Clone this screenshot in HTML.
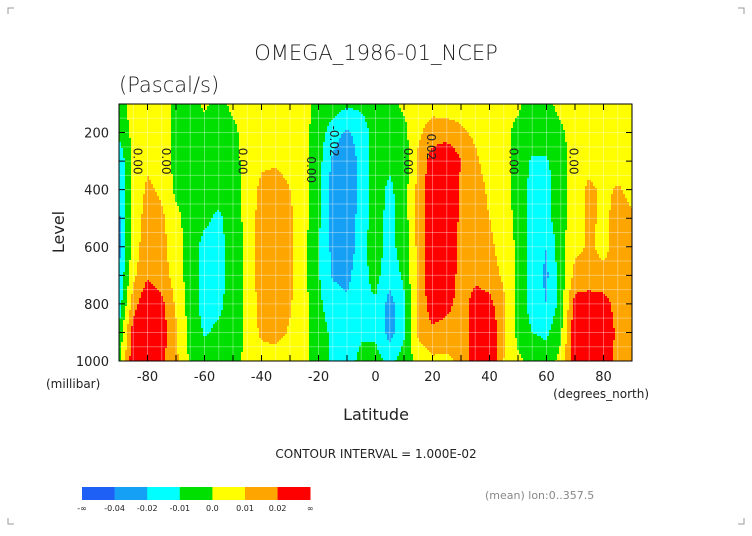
<!DOCTYPE html>
<html><head><meta charset="utf-8"><style>
body{margin:0;background:#fff;width:752px;height:532px;overflow:hidden;font-family:"DejaVu Sans","Liberation Sans",sans-serif}
svg text{font-family:"DejaVu Sans","Liberation Sans",sans-serif}
</style></head><body>
<svg id="c" width="752" height="532" viewBox="0 0 752 532" xmlns="http://www.w3.org/2000/svg">
<g stroke="#999" stroke-width="1" fill="none">
<path d="M8 14V8h6M744 14V8h-6M8 518v6h6M744 518v6h-6"/></g>
<text x="376" y="60" font-size="21" text-anchor="middle" fill="#222" font-weight="300">OMEGA_1986-01_NCEP</text>
<text x="119" y="92" font-size="21" fill="#222" font-weight="300">(Pascal/s)</text>
<g id="field"></g>
<g id="grid"></g>
<g id="labels"></g>
<rect x="119" y="104" width="513" height="257" fill="none" stroke="#000" stroke-width="1"/>
<g id="axes"></g>
<text x="64" y="232" font-size="16" text-anchor="middle" fill="#222" transform="rotate(-90 64 232)">Level</text>
<text x="46" y="388" font-size="12" fill="#222">(millibar)</text>
<text x="376" y="420" font-size="16" text-anchor="middle" fill="#222">Latitude</text>
<text x="649" y="398" font-size="12" text-anchor="end" fill="#222">(degrees_north)</text>
<text x="376" y="458" font-size="12" text-anchor="middle" fill="#222">CONTOUR INTERVAL = 1.000E-02</text>
<text x="485" y="499" font-size="11" fill="#888">(mean) lon:0..357.5</text>
<g id="cbar"></g>
</svg>
<script>
const NS="http://www.w3.org/2000/svg";
const lats=[-90,-85,-80,-75,-70,-65,-60,-55,-50,-45,-40,-35,-30,-25,-20,-15,-10,-5,0,5,10,15,20,25,30,35,40,45,50,55,60,65,70,75,80,85,90];
const levels=[100,200,300,400,500,600,700,800,900,1000];
// omega values in units of 0.01 Pa/s, one array per latitude (levels 100..1000)
const omega=[
[-0.5,-0.8,-1.8,-1.8,-2.2,-2.4,-1.9,-1.6,-0.8,-0.5],
[0.5,0.3,0.2,0.2,0.3,0.5,0.8,1.5,2.5,2.8],
[0.5,0.6,0.8,1.2,1.5,1.6,1.8,3,3.5,3.5],
[0.5,0.5,0.5,0.8,1.2,1.3,1.4,2.3,2.5,2.2],
[-0.3,-0.3,-0.3,-0.2,0.3,0.5,0.6,0.8,1.2,1.2],
[-0.5,-0.5,-0.5,-0.5,-0.5,-0.5,-0.5,-0.5,-0.3,-0.2],
[0.2,-0.5,-0.5,-0.5,-0.8,-1.3,-1.4,-1.4,-1.1,-0.5],
[-0.5,-0.5,-0.5,-0.5,-1.2,-1.3,-1.3,-1.2,-0.8,-0.5],
[0.3,-0.3,-0.3,-0.5,-0.5,-0.6,-0.6,-0.6,-0.6,-0.3],
[0.5,0.5,0.3,0.3,0.3,0.3,0.3,0.3,0.3,0.2],
[0.5,0.6,0.8,1.3,1.5,1.5,1.5,1.4,1.2,0.5],
[0.5,0.6,0.9,1.4,1.5,1.5,1.5,1.4,1.3,0.6],
[0.5,0.5,0.7,1.0,1.2,1.2,1.2,1.1,0.9,0.5],
[0.3,0.3,0.3,0.3,0.3,0.3,0.3,0.3,0.3,0.3],
[-0.3,-0.5,-0.6,-0.8,-0.8,-0.9,-0.9,-0.8,-0.6,-0.5],
[-0.5,-1.5,-2.2,-2.5,-2.5,-2.3,-2.1,-1.5,-1.2,-1.2],
[-0.8,-2.2,-2.8,-3,-3,-2.8,-2.3,-1.8,-1.5,-1.3],
[-0.8,-1.5,-1.6,-1.5,-1.4,-1.3,-1.3,-1.2,-1.1,-0.8],
[-0.5,-0.6,-0.6,-0.6,-0.6,-0.6,-0.7,-1.1,-1.2,-0.6],
[-0.3,-0.5,-0.8,-1.2,-1.3,-1.3,-1.6,-2.4,-2.4,-1.3],
[0.2,-0.3,-0.5,-0.5,-0.5,-0.6,-0.8,-1.2,-1.2,-0.5],
[0.5,0.8,1.2,1.3,1.3,1.3,1.3,1.2,1.2,0.3],
[0.6,1.5,2.5,2.8,2.8,2.8,2.8,2.6,1.8,0.8],
[0.5,1.5,3,3.2,3.2,3.1,2.9,2.4,1.5,0.8],
[0.5,1.2,2.0,1.8,1.7,1.6,1.5,1.5,1.3,1.2],
[0.5,0.8,1.2,1.5,1.5,1.5,1.8,2.4,2.6,2.6],
[0.5,0.5,0.5,0.8,1.0,1.2,1.5,2.3,3,3],
[0.3,0.3,0.4,0.5,0.5,0.6,0.8,1.2,1.2,1],
[0.2,-0.3,-0.5,-0.5,-0.3,-0.2,-0.2,-0.2,-0.3,0.2],
[-0.5,-0.5,-1.1,-1.3,-1.3,-1.4,-1.5,-1.5,-1,-0.3],
[-0.3,-0.5,-1.1,-1.3,-1.3,-2,-2.2,-2,-1.2,-0.5],
[0.3,-0.2,-0.5,-0.5,-0.4,-0.4,-0.5,-0.6,-0.2,0.3],
[0.5,0.5,0.5,0.5,0.6,0.8,1.3,2.4,2.8,2.6],
[0.5,0.5,0.7,1.2,1.2,1.1,1.3,2.6,3.2,3.2],
[0.5,0.5,0.5,0.8,0.8,0.8,1.2,2.5,3.3,3.2],
[0.5,0.5,0.5,1.1,1.3,1.3,1.2,1.5,1.6,1.4],
[0.5,0.5,0.5,0.8,1.1,1.2,1.1,1.2,1.3,1.2]
];
const thresholds=[-4,-2,-1,0,1,2];
const colors=["#1e5ff5","#16a0f5","#00ffff","#00e000","#ffff00","#ffa500","#ff0000"];
const cbarLabels=["-∞","-0.04","-0.02","-0.01","0.0","0.01","0.02","∞"];
const xTicks=[-80,-60,-40,-20,0,20,40,60,80];
const yTicks=[200,400,600,800,1000];
const contourLabels=[[-85,300,"0.00"],[-75,300,"0.00"],[-48,300,"0.00"],[-24,330,"0.00"],[-16,230,"-0.02"],[10,300,"0.00"],[18,250,"0.02"],[47,300,"0.00"],[68,300,"0.00"]];

const X0=119,X1=632,Y0=104,Y1=361;
const xs=lat=>X0+(lat+90)/180*(X1-X0);
const ys=p=>Y1-(1000-p)/900*(Y1-Y0);
const col=v=>{let i=0;while(i<thresholds.length&&v>=thresholds[i])i++;return colors[i];};
function val(lat,p){
  let fi=(lat-lats[0])/(lats[1]-lats[0]);fi=Math.max(0,Math.min(lats.length-1.0001,fi));
  let fj=(p-levels[0])/(levels[1]-levels[0]);fj=Math.max(0,Math.min(levels.length-1.0001,fj));
  const i=Math.floor(fi),j=Math.floor(fj),a=fi-i,b=fj-j;
  return (omega[i][j]*(1-a)+omega[i+1][j]*a)*(1-b)+(omega[i][j+1]*(1-a)+omega[i+1][j+1]*a)*b;
}
const field=document.getElementById('field');
const S=2;
function addRun(x0,x1,y,c){
  const r=document.createElementNS(NS,'rect');
  r.setAttribute('x',x0);r.setAttribute('y',y);r.setAttribute('width',x1-x0+0.3);r.setAttribute('height',Math.min(S,Y1-y)+0.3);r.setAttribute('fill',c);
  
  
  field.appendChild(r);
}
for(let y=Y0;y<Y1;y+=S){
  const p=1000-(Y1-(y+S/2))/(Y1-Y0)*900;
  let runStart=X0,runCol=null;
  for(let x=X0;x<X1;x+=S){
    const c=col(val((Math.min(x+S/2,X1)-X0)/(X1-X0)*180-90,p));
    if(c!==runCol){
      if(runCol)addRun(runStart,x,y,runCol);
      runStart=x;runCol=c;
    }
  }
  if(runCol)addRun(runStart,X1,y,runCol);
}
const grid=document.getElementById('grid');
for(let lat=-85;lat<90;lat+=5){const l=document.createElementNS(NS,'line');l.setAttribute('x1',xs(lat));l.setAttribute('x2',xs(lat));l.setAttribute('y1',Y0);l.setAttribute('y2',Y1);l.setAttribute('stroke','#fff');l.setAttribute('stroke-opacity','0.35');


grid.appendChild(l);}
for(let p=150;p<1000;p+=50){const l=document.createElementNS(NS,'line');l.setAttribute('x1',X0);l.setAttribute('x2',X1);l.setAttribute('y1',ys(p));l.setAttribute('y2',ys(p));l.setAttribute('stroke','#fff');l.setAttribute('stroke-opacity','0.35');


grid.appendChild(l);}
const lab=document.getElementById('labels');
contourLabels.forEach(c=>{const t=document.createElementNS(NS,'text');const x=xs(c[0]),y=ys(c[1]);
t.setAttribute('x',x);t.setAttribute('y',y);t.setAttribute('font-size','12');t.setAttribute('text-anchor','middle');t.setAttribute('transform',`rotate(90 ${x} ${y})`);t.setAttribute('fill','#222');t.textContent=c[2];


lab.appendChild(t);});
const ax=document.getElementById('axes');
let d='';
for(let lat=-90;lat<=90;lat+=10){d+=`M${xs(lat)} ${Y1}v-6M${xs(lat)} ${Y0}v6`;}
for(let p=100;p<=1000;p+=100){d+=`M${X0} ${ys(p)}h6M${X1} ${ys(p)}h-6`;}
const tp=document.createElementNS(NS,'path');tp.setAttribute('d',d);tp.setAttribute('stroke','#000');


ax.appendChild(tp);
xTicks.forEach(v=>{const t=document.createElementNS(NS,'text');t.setAttribute('x',xs(v));t.setAttribute('y',381);t.setAttribute('font-size','13');t.setAttribute('text-anchor','middle');t.setAttribute('fill','#222');t.textContent=v;


ax.appendChild(t);});
yTicks.forEach(v=>{const t=document.createElementNS(NS,'text');t.setAttribute('x',109);t.setAttribute('y',ys(v)+5);t.setAttribute('font-size','13');t.setAttribute('text-anchor','end');t.setAttribute('fill','#222');t.textContent=v;


ax.appendChild(t);});
const cb=document.getElementById('cbar');const bw=32.6,bx=82;
colors.forEach((c,i)=>{const r=document.createElementNS(NS,'rect');r.setAttribute('x',bx+i*bw);r.setAttribute('y',487);r.setAttribute('width',bw+0.3);r.setAttribute('height',13);r.setAttribute('fill',c);


cb.appendChild(r);});
cbarLabels.forEach((s,i)=>{const t=document.createElementNS(NS,'text');t.setAttribute('x',bx+i*bw);t.setAttribute('y',511);t.setAttribute('font-size','8');t.setAttribute('text-anchor','middle');t.setAttribute('fill','#222');t.textContent=s;


cb.appendChild(t);});
</script>
</body></html>
